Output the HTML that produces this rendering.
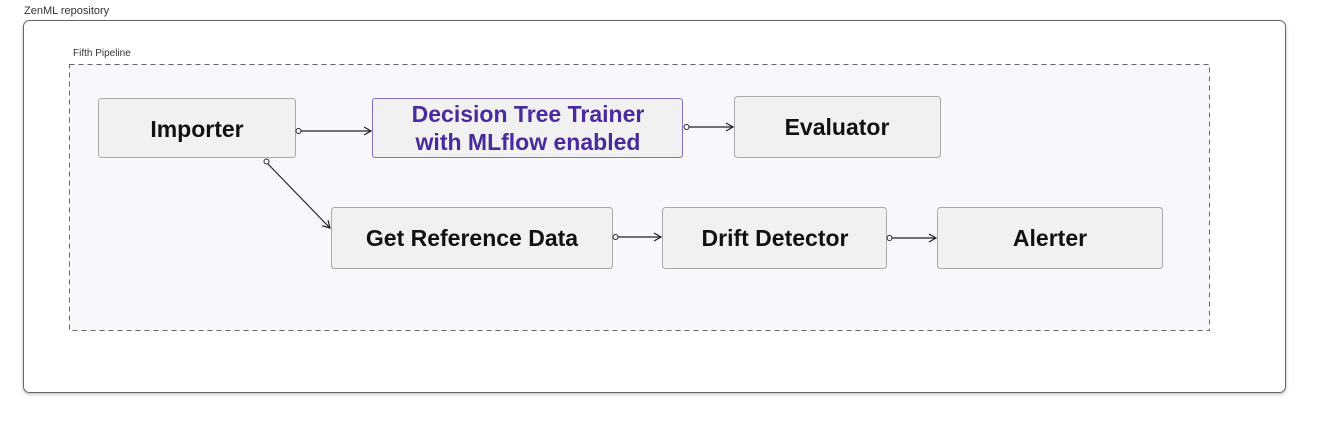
<!DOCTYPE html>
<html><head><style>body{margin:0;background:#fff}svg{display:block}</style></head><body>
<svg width="1332" height="443" xmlns="http://www.w3.org/2000/svg" font-family="Liberation Sans, sans-serif">
<defs><filter id="s" x="-5%" y="-5%" width="110%" height="115%"><feDropShadow dx="0" dy="1.5" stdDeviation="1.5" flood-color="#000" flood-opacity="0.25"/></filter>
<marker id="a" markerWidth="10" markerHeight="10" refX="8" refY="5" orient="auto" markerUnits="userSpaceOnUse"><path d="M1,1 L8,5 L1,9" fill="none" stroke="#222" stroke-width="1.2"/></marker></defs>
<text x="24" y="14" font-size="11" fill="#333">ZenML repository</text>
<rect x="23.5" y="20.5" width="1262" height="372" rx="6" fill="#fff" stroke="#666" filter="url(#s)"/>
<text x="73" y="56" font-size="10" fill="#333">Fifth Pipeline</text>
<rect x="69.5" y="64.5" width="1140" height="266" fill="#f8f7fc" stroke="#666" stroke-dasharray="5,4"/>
<g stroke="#aaa" fill="#f1f1f1">
<rect x="98.5" y="98.5" width="197" height="59" rx="3"/>
<rect x="372.5" y="98.5" width="310" height="59" rx="3" stroke="#8a6cc8"/>
<rect x="734.5" y="96.5" width="206" height="61" rx="3"/>
<rect x="331.5" y="207.5" width="281" height="61" rx="3"/>
<rect x="662.5" y="207.5" width="224" height="61" rx="3"/>
<rect x="937.5" y="207.5" width="225" height="61" rx="3"/>
</g>
<g font-size="23" font-weight="bold" text-anchor="middle" fill="#111">
<text x="197" y="137">Importer</text>
<text x="837" y="135">Evaluator</text>
<text x="472" y="246">Get Reference Data</text>
<text x="775" y="246">Drift Detector</text>
<text x="1050" y="246">Alerter</text>
<text x="528" y="122" fill="#4a2a9c">Decision Tree Trainer</text>
<text x="528" y="150" fill="#4a2a9c">with MLflow enabled</text>
</g>
<g stroke="#222" stroke-width="1.2" fill="none">
<line x1="301" y1="131" x2="371" y2="131" marker-end="url(#a)"/>
<line x1="689" y1="127" x2="733" y2="127" marker-end="url(#a)"/>
<line x1="268" y1="164" x2="330" y2="228" marker-end="url(#a)"/>
<line x1="618" y1="237" x2="661" y2="237" marker-end="url(#a)"/>
<line x1="892" y1="238" x2="936" y2="238" marker-end="url(#a)"/>
</g>
<g stroke="#222" stroke-width="1" fill="#fff">
<circle cx="298.5" cy="131" r="2.5"/><circle cx="686.5" cy="127" r="2.5"/><circle cx="266.5" cy="161.5" r="2.5"/><circle cx="615.5" cy="237" r="2.5"/><circle cx="889.5" cy="238" r="2.5"/>
</g>
</svg>
</body></html>
